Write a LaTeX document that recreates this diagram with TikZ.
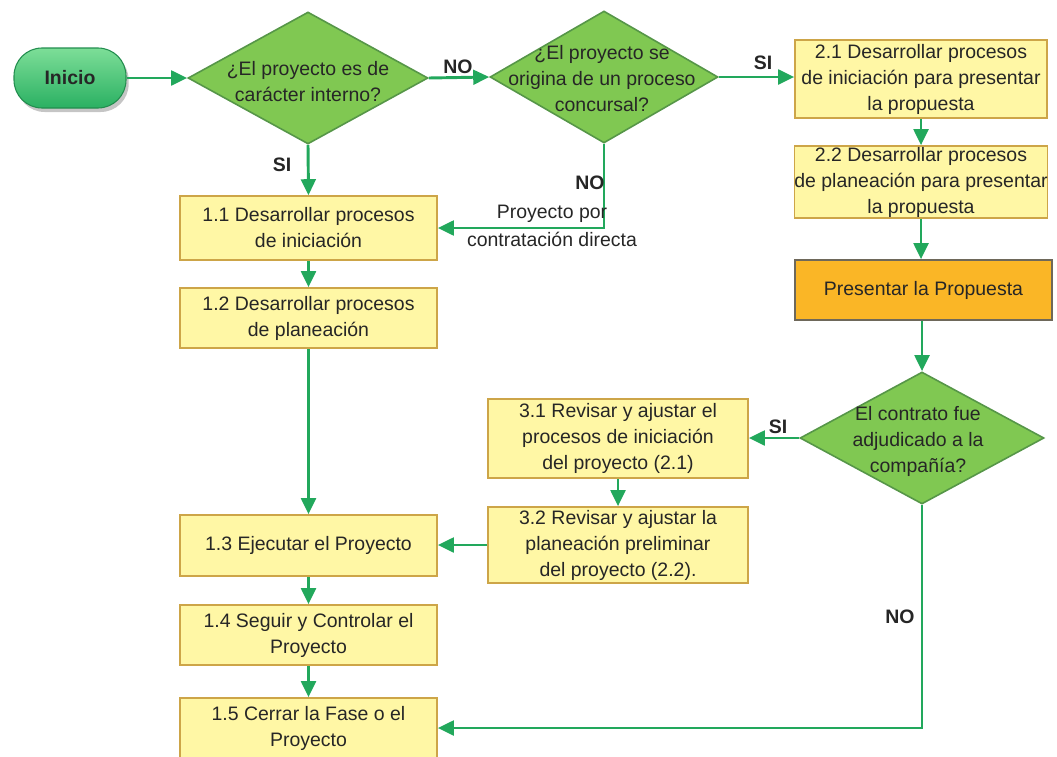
\documentclass[tikz,border=0pt]{standalone}
\usepackage{fontspec}
\setmainfont{Liberation Sans}
\usetikzlibrary{shapes.geometric,arrows.meta,shadows}

\definecolor{flow}{RGB}{34,168,92}
\definecolor{dfill}{RGB}{128,200,82}
\definecolor{ddraw}{RGB}{86,150,72}
\definecolor{bfill}{RGB}{255,247,165}
\definecolor{bdraw}{RGB}{205,165,72}
\definecolor{ofill}{RGB}{250,182,38}
\definecolor{odraw}{RGB}{110,104,90}
\definecolor{txt}{RGB}{38,38,38}
\definecolor{itop}{RGB}{125,222,152}
\definecolor{ibot}{RGB}{42,176,98}

\tikzset{
  every node/.style={font=\fontsize{14.6}{19.5}\selectfont, text=txt},
  stepbox/.style={draw=bdraw, fill=bfill, line width=1.2pt, inner sep=0pt, align=center},
  orangebox/.style={draw=odraw, fill=ofill, line width=1.2pt, inner sep=0pt, align=center},
  decision/.style={diamond, draw=ddraw, fill=dfill, line width=1.2pt, inner sep=0pt, aspect=1.8},
  dtext/.style={align=center, inner sep=0pt},
  startnode/.style={rounded corners=21pt, draw=ibot!80!black, line width=0.8pt,
    top color=itop, bottom color=ibot, inner sep=0pt,
    drop shadow={shadow xshift=2pt, shadow yshift=-3pt, fill=black!45, opacity=0.5},
    font=\fontsize{14.6}{19.5}\selectfont\bfseries, text=black!85},
  flowline/.style={draw=flow, line width=2.2pt, -{Triangle[length=12pt,width=11pt]}},
  tag/.style={font=\fontsize{14.6}{19.5}\selectfont\bfseries, inner sep=0pt, text=black!85},
}

\begin{document}
\begin{tikzpicture}[x=0.75pt,y=-0.75pt]
\useasboundingbox (0,0) rectangle (1057,757);

% start
\node[startnode, minimum width=84pt, minimum height=45pt] (ini) at (70,78) {Inicio};

% decisions
\node[decision, minimum width=180pt, minimum height=99pt] (d1) at (308,78) {};
\node[dtext] (d1t) at (308,82) {¿El proyecto es de\\carácter interno?};
\node[decision, minimum width=171pt, minimum height=99pt] (d2) at (604,77) {};
\node[dtext] (d2t) at (602,79) {¿El proyecto se\\origina de un proceso\\concursal?};
\node[decision, minimum width=183pt, minimum height=99pt] (d3) at (922,438) {};
\node[dtext] (d3t) at (918,441) {El contrato fue\\adjudicado a la\\compañía?};

% branch 1
\node[stepbox, minimum width=192.75pt, minimum height=48pt] (b11) at (308.5,228) {1.1 Desarrollar procesos\\de iniciación};
\node[stepbox, minimum width=192.75pt, minimum height=45pt] (b12) at (308.5,318) {1.2 Desarrollar procesos\\de planeación};
\node[stepbox, minimum width=192.75pt, minimum height=45.75pt] (b13) at (308.5,545.5) {1.3 Ejecutar el Proyecto};
\node[stepbox, minimum width=192.75pt, minimum height=45pt] (b14) at (308.5,635) {1.4 Seguir y Controlar el\\Proyecto};
\node[stepbox, minimum width=192.75pt, minimum height=45pt] (b15) at (308.5,728) {1.5 Cerrar la Fase o el\\Proyecto};

% branch 2
\node[stepbox, minimum width=189pt, minimum height=58.5pt] (b21) at (921,79) {2.1 Desarrollar procesos\\de iniciación para presentar\\la propuesta};
\node[stepbox, minimum width=189pt, minimum height=54pt] (b22) at (921,182) {2.2 Desarrollar procesos\\de planeación para presentar\\la propuesta};
\node[orangebox, minimum width=192.75pt, minimum height=45pt] (prop) at (923.5,290) {Presentar la Propuesta};

% branch 3
\node[stepbox, minimum width=195pt, minimum height=59.25pt] (b31) at (618,438.5) {3.1 Revisar y ajustar el\\procesos de iniciación\\del proyecto (2.1)};
\node[stepbox, minimum width=195pt, minimum height=57pt] (b32) at (618,545) {3.2 Revisar y ajustar la\\planeación preliminar\\del proyecto (2.2).};

% connectors
\draw[flowline] (ini) -- (d1.west);
\draw[flowline] (d1.east) -- (d2.west);
\draw[flowline] (d2.east) -- (b21.west |- d2.east);
\draw[flowline] (d1.south) -- (b11.north);
\draw[flowline] (d2.south) |- (b11.east);
\draw[flowline] (b11) -- (b12);
\draw[flowline] (b12) -- (b13);
\draw[flowline] (b13) -- (b14);
\draw[flowline] (b14) -- (b15);
\draw[flowline] (b21.south -| b22.north) -- (b22.north);
\draw[flowline] (b22.south) -- (b22.south |- prop.north);
\draw[flowline] (prop.south -| d3.north) -- (d3.north);
\draw[flowline] (d3.west) -- (b31.east |- d3.west);
\draw[flowline] (b31) -- (b32);
\draw[flowline] (b32.west) -- (b13.east |- b32.west);
\draw[flowline] (d3.south) |- (b15.east);

% branch labels
\node[tag] (no1) at (458,67) {NO};
\node[tag] (si1) at (763,63) {SI};
\node[tag] (si2) at (282,165) {SI};
\node[tag] (no2) at (590,183) {NO};
\node[dtext] (direct) at (552,226) {Proyecto por\\[1pt]contratación directa};
\node[tag] (si3) at (778,427) {SI};
\node[tag] (no3) at (900,617) {NO};
\end{tikzpicture}
\end{document}
